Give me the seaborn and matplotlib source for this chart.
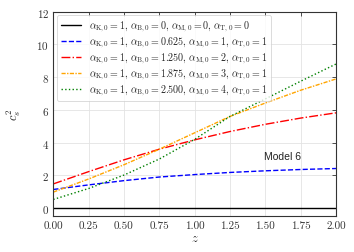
import numpy as np
import pandas as pd
import matplotlib
matplotlib.use("Agg")
import matplotlib.pyplot as plt
import seaborn as sns

# values
z = [0.0, 0.25, 0.5, 0.75, 1.0, 1.25, 1.5, 1.75, 2.0]
cs2_m0 = [0, 0, 0, 0, 0, 0, 0, 0, 0]
cs2_m1 = [1.14, 1.42, 1.68, 1.90, 2.05, 2.18, 2.28, 2.36, 2.42]
cs2_m2 = [1.48, 2.23, 2.95, 3.60, 4.17, 4.68, 5.12, 5.50, 5.82]
cs2_m3 = [0.98, 1.78, 2.65, 3.60, 4.60, 5.60, 6.42, 7.20, 7.89]
cs2_m4 = [0.53, 1.20, 2.02, 3.00, 4.20, 5.60, 6.67, 7.75, 8.80]

labels = [
    r"$\alpha_{\rm K,0}=1,\,\alpha_{\rm B,0}=0,\,\alpha_{\rm M,0}=0,\,\alpha_{\rm T,0}=0$",
    r"$\alpha_{\rm K,0}=1,\,\alpha_{\rm B,0}=0.625,\,\alpha_{\rm M,0}=1,\,\alpha_{\rm T,0}=1$",
    r"$\alpha_{\rm K,0}=1,\,\alpha_{\rm B,0}=1.250,\,\alpha_{\rm M,0}=2,\,\alpha_{\rm T,0}=1$",
    r"$\alpha_{\rm K,0}=1,\,\alpha_{\rm B,0}=1.875,\,\alpha_{\rm M,0}=3,\,\alpha_{\rm T,0}=1$",
    r"$\alpha_{\rm K,0}=1,\,\alpha_{\rm B,0}=2.500,\,\alpha_{\rm M,0}=4,\,\alpha_{\rm T,0}=1$",
]
colors = ["black", "blue", "red", "orange", "green"]
styles = ["-", "--", "-.", (0, (3, 1, 1, 1)), ":"]

sns.set_theme(style="whitegrid")
plt.rcParams.update({
    "font.family": "serif",
    "font.serif": ["cmr10", "DejaVu Serif"],
    "mathtext.fontset": "cm",
    "axes.formatter.use_mathtext": True,
    "axes.edgecolor": "#333333",
    "axes.linewidth": 0.8,
    "grid.color": "#e3e3e3",
    "grid.linewidth": 0.6,
    "xtick.direction": "in",
    "ytick.direction": "in",
    "xtick.top": True,
    "ytick.right": True,
    "xtick.major.size": 3,
    "ytick.major.size": 3,
    "xtick.labelsize": 8,
    "ytick.labelsize": 8,
    "xtick.color": "#333333",
    "ytick.color": "#333333",
})

fig = plt.figure(figsize=(3.54, 2.53), dpi=100)
ax = fig.add_axes([0.1506, 0.141, 0.7985, 0.809])

series = [cs2_m0, cs2_m1, cs2_m2, cs2_m3, cs2_m4]
for vals, lab, c, ls in zip(series, labels, colors, styles):
    df = pd.DataFrame({"z": z, "cs2": vals})
    sns.lineplot(data=df, x="z", y="cs2", ax=ax, color=c, linestyle=ls,
                 linewidth=1.0, label=lab)

ax.set_xlim(0, 2)
ax.set_ylim(-0.5, 12)
ax.set_xticks([0, 0.25, 0.5, 0.75, 1.0, 1.25, 1.5, 1.75, 2.0])
ax.set_xticklabels(["0.00", "0.25", "0.50", "0.75", "1.00", "1.25", "1.50", "1.75", "2.00"])
ax.set_yticks([0, 2, 4, 6, 8, 10, 12])
ax.tick_params(axis="both", which="major", pad=3, length=3, width=0.6)
ax.set_xlabel(r"$z$", fontsize=9, labelpad=1)
ax.set_ylabel(r"$c_s^2$", fontsize=9, labelpad=10)

ax.text(1.49, 3.2, "Model 6", fontsize=7.5, family="Liberation Sans",
        va="center", ha="left", color="#222222")

leg = ax.legend(loc="upper left", fontsize=7.2, handlelength=2.0,
                borderpad=0.4, labelspacing=0.18, handletextpad=0.8,
                frameon=True, fancybox=True, borderaxespad=0.35)
leg.get_frame().set_edgecolor("#cccccc")
leg.get_frame().set_linewidth(0.6)

fig.savefig("out.png", dpi=100)
